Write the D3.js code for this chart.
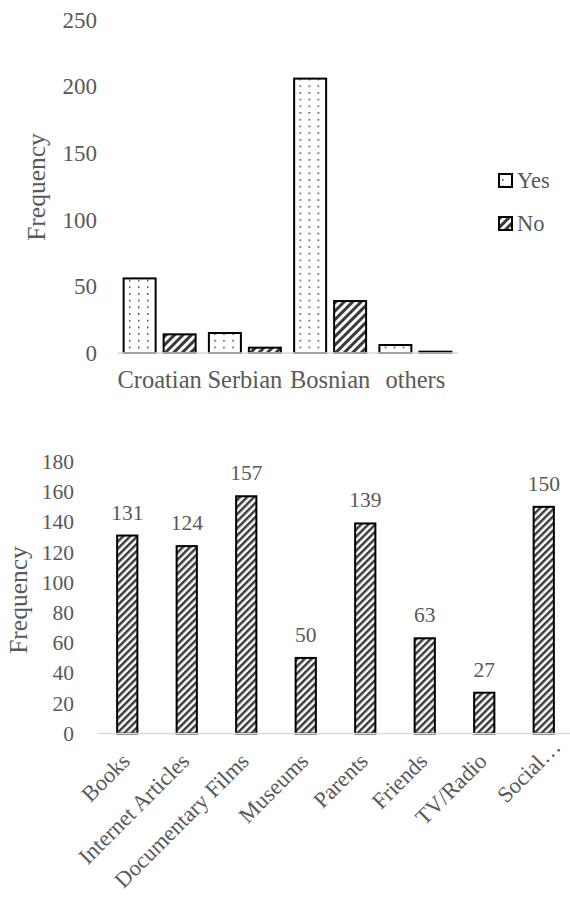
<!DOCTYPE html>
<html><head><meta charset="utf-8">
<script src="https://cdn.jsdelivr.net/npm/d3@7/dist/d3.min.js"></script>
<style>
html,body{margin:0;padding:0;background:#fff;}
svg{display:block;}
svg text{font-family:"Liberation Serif","Times New Roman",serif !important;}
</style></head>
<body>
<script>
// ---- Chart 1 data ----
const langCategories = ["Croatian", "Serbian", "Bosnian", "others"];
const seriesNames = ["Yes", "No"];
const yesValues = [56, 15, 206, 6];
const noValues = [14, 4, 39, 1];
const topTicks = [0, 50, 100, 150, 200, 250];

// ---- Chart 2 data ----
const sourceCategories = ["Books", "Internet Articles", "Documentary Films", "Museums", "Parents", "Friends", "TV/Radio", "Social…"];
const sourceValues = [131, 124, 157, 50, 139, 63, 27, 150];
const bottomTicks = [0, 20, 40, 60, 80, 100, 120, 140, 160, 180];

const W = 570, H = 903;
const textColor = "#595959";
const svg = d3.select("body").append("svg").attr("width", W).attr("height", H);

// patterns
const defs = svg.append("defs");
const dots = defs.append("pattern").attr("id", "dots").attr("patternUnits", "userSpaceOnUse")
  .attr("x", 124).attr("y", 2).attr("width", 9).attr("height", 6.7);
dots.append("rect").attr("width", 9).attr("height", 6.7).attr("fill", "#fff");
dots.append("rect").attr("x", 5).attr("y", 3).attr("width", 1.5).attr("height", 1.5).attr("fill", "#333");

function stripes(id, size) {
  const p = defs.append("pattern").attr("id", id).attr("patternUnits", "userSpaceOnUse")
    .attr("width", size).attr("height", size).attr("patternTransform", "rotate(45)");
  p.append("rect").attr("width", size).attr("height", size).attr("fill", "#fff");
  p.append("rect").attr("x", 0).attr("y", 0).attr("width", size * 0.5).attr("height", size).attr("fill", "#3a3a3a");
}
stripes("stripesTop", 6);
stripes("stripesBot", 5);

// ================= Chart 1 =================
const y1 = d3.scaleLinear().domain([0, 250]).range([353, 20]);
const x0 = d3.scaleBand().domain(langCategories).range([117, 458]).paddingInner(0).paddingOuter(0);
const x1 = d3.scaleBand().domain(seriesNames).range([0, x0.bandwidth()]).paddingInner(0.2).paddingOuter(0.166);
const fills = { Yes: "url(#dots)", No: "url(#stripesTop)" };

const g1 = svg.append("g");
const yAxis1 = g1.append("g").attr("transform", "translate(97,0)")
  .call(d3.axisLeft(y1).tickValues(topTicks).tickSize(0).tickPadding(0));
yAxis1.select(".domain").remove();
yAxis1.selectAll("text").attr("fill", textColor).attr("font-size", 23);

g1.append("text").attr("transform", "translate(45,187) rotate(-90)")
  .attr("text-anchor", "middle").attr("fill", textColor).attr("font-size", 25.5).text("Frequency");

const groups = g1.selectAll(".grp").data(langCategories).join("g")
  .attr("transform", d => `translate(${x0(d)},0)`);
groups.selectAll("rect").data((d, i) => [{ s: "Yes", v: yesValues[i] }, { s: "No", v: noValues[i] }])
  .join("rect")
  .attr("x", d => x1(d.s)).attr("width", x1.bandwidth())
  .attr("y", d => y1(d.v)).attr("height", d => y1(0) - y1(d.v))
  .attr("fill", d => fills[d.s]).attr("stroke", "#000").attr("stroke-width", 2);

g1.append("line").attr("x1", 117).attr("x2", 458).attr("y1", y1(0)).attr("y2", y1(0))
  .attr("stroke", "#d9d9d9").attr("stroke-width", 1.5);

const xAxis1 = g1.append("g").attr("transform", `translate(0,${y1(0)})`)
  .call(d3.axisBottom(x0).tickSize(0).tickPadding(0));
xAxis1.select(".domain").remove();
xAxis1.selectAll("text").attr("fill", textColor).attr("font-size", 24.5)
  .attr("dy", null).attr("y", 35);

// legend
const leg = g1.selectAll(".leg").data(seriesNames).join("g")
  .attr("transform", (d, i) => `translate(499,${174 + i * 43})`);
leg.append("rect").attr("width", 13).attr("height", 13).attr("fill", d => fills[d])
  .attr("stroke", "#000").attr("stroke-width", 2);
leg.append("text").attr("x", 18).attr("y", 6.5).attr("dy", "0.35em")
  .attr("fill", textColor).attr("font-size", 22.5).text(d => d);

// ================= Chart 2 =================
const y2 = d3.scaleLinear().domain([0, 180]).range([733.5, 461.5]);
const x2 = d3.scaleBand().domain(sourceCategories).range([97.5, 573.5]).paddingInner(0.66).paddingOuter(0.33);
const g2 = svg.append("g");

const yAxis2 = g2.append("g").attr("transform", "translate(74,0)")
  .call(d3.axisLeft(y2).tickValues(bottomTicks).tickSize(0).tickPadding(0));
yAxis2.select(".domain").remove();
yAxis2.selectAll("text").attr("fill", textColor).attr("font-size", 21.5);

g2.append("text").attr("transform", "translate(27,600) rotate(-90)")
  .attr("text-anchor", "middle").attr("fill", textColor).attr("font-size", 25.5).text("Frequency");

g2.selectAll(".bar").data(sourceCategories).join("rect")
  .attr("x", d => x2(d)).attr("width", x2.bandwidth())
  .attr("y", (d, i) => y2(sourceValues[i])).attr("height", (d, i) => y2(0) - y2(sourceValues[i]))
  .attr("fill", "url(#stripesBot)").attr("stroke", "#000").attr("stroke-width", 2);

g2.selectAll(".val").data(sourceCategories).join("text")
  .attr("x", d => x2(d) + x2.bandwidth() / 2).attr("y", (d, i) => y2(sourceValues[i]) - 16)
  .attr("text-anchor", "middle").attr("fill", textColor).attr("font-size", 21.5)
  .text((d, i) => sourceValues[i]);

g2.append("line").attr("x1", 98).attr("x2", 573).attr("y1", y2(0)).attr("y2", y2(0))
  .attr("stroke", "#d9d9d9").attr("stroke-width", 1.5);

const xAxis2 = g2.append("g").attr("transform", `translate(0,${y2(0)})`)
  .call(d3.axisBottom(x2).tickSize(0).tickPadding(0));
xAxis2.select(".domain").remove();
xAxis2.selectAll("text").attr("fill", textColor).attr("font-size", 22.5)
  .attr("dy", null).attr("y", 0).attr("text-anchor", "end")
  .attr("dx", d => d.endsWith("…") ? 20 : 0)
  .attr("transform", d => `translate(4,29) rotate(-45)`);
</script>
</body></html>
